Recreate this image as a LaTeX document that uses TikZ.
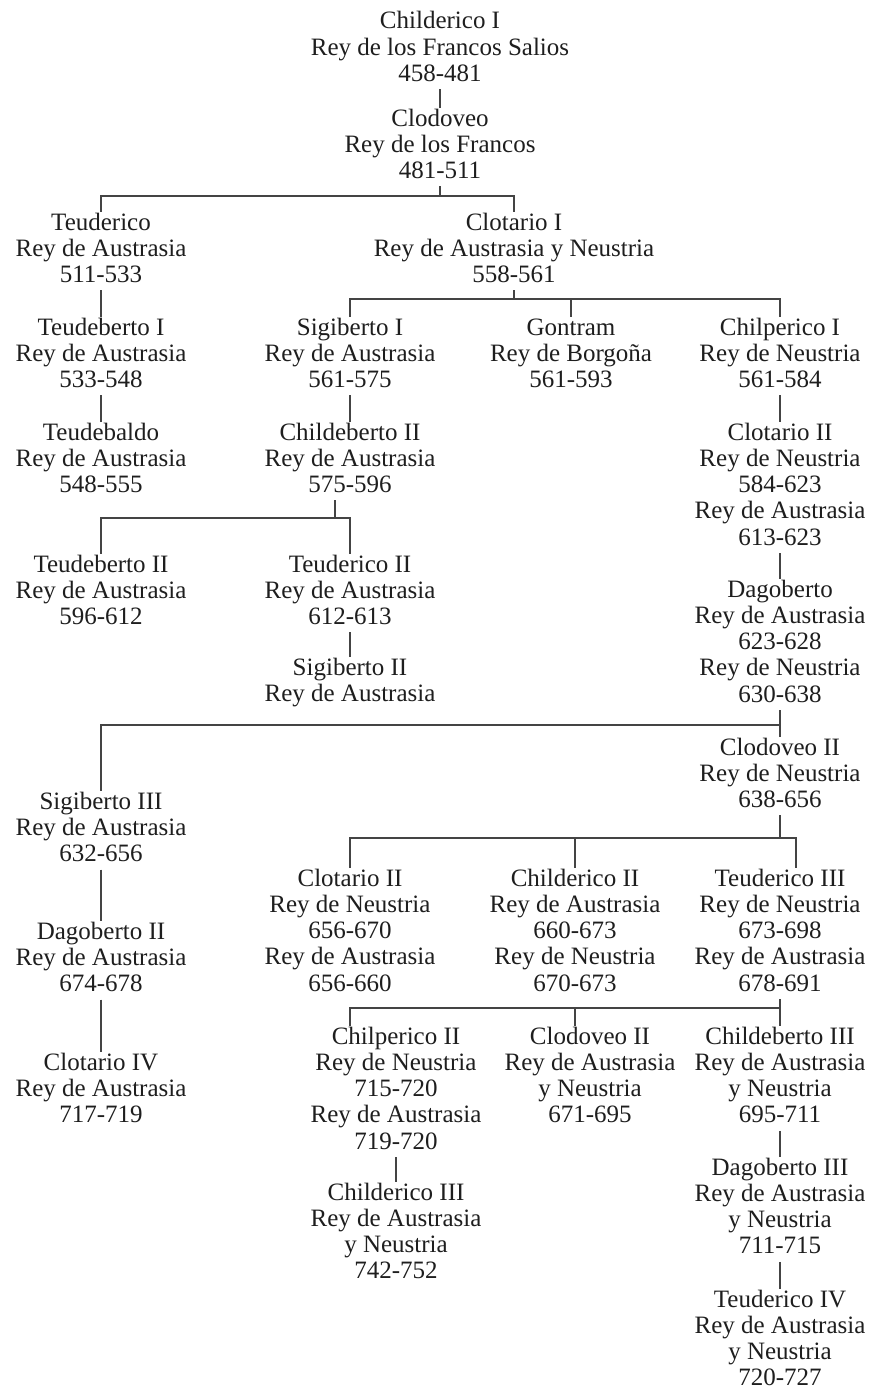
\documentclass[tikz,border=0pt]{standalone}
\usepackage{fontspec}
\setmainfont{Liberation Serif}
\definecolor{ink}{HTML}{1E1E1E}
\definecolor{rule}{HTML}{444444}
\newcommand\kingtext[1]{\begin{tabular}[t]{@{}c@{}}#1\end{tabular}}
\newcommand\kfont{\fontsize{25}{26.3}\selectfont}
\tikzset{
  king/.style={anchor=base, inner sep=0pt, outer sep=0pt, text=ink, font=\kfont},
  link/.style={draw=rule, line width=1.5pt}
}
\begin{document}
\begin{tikzpicture}[x=1pt,y=-1pt]
\useasboundingbox[fill=white] (0,0) rectangle (872,1389);
% nodes
\node[king] (ch1) at (440,29) {\kingtext{Childerico I\\Rey de los Francos Salios\\458-481}};
\node[king] (clo) at (440,126) {\kingtext{Clodoveo\\Rey de los Francos\\481-511}};
\node[king] (teu) at (101,230) {\kingtext{Teuderico\\Rey de Austrasia\\511-533}};
\node[king] (clt1) at (514,230) {\kingtext{Clotario I\\Rey de Austrasia y Neustria\\558-561}};
\node[king] (tb1) at (101,335) {\kingtext{Teudeberto I\\Rey de Austrasia\\533-548}};
\node[king] (sg1) at (350,335) {\kingtext{Sigiberto I\\Rey de Austrasia\\561-575}};
\node[king] (gon) at (571,335) {\kingtext{Gontram\\Rey de Borgoña\\561-593}};
\node[king] (chp1) at (780,335) {\kingtext{Chilperico I\\Rey de Neustria\\561-584}};
\node[king] (tbd) at (101,440) {\kingtext{Teudebaldo\\Rey de Austrasia\\548-555}};
\node[king] (cb2) at (350,440) {\kingtext{Childeberto II\\Rey de Austrasia\\575-596}};
\node[king] (clt2) at (780,440) {\kingtext{Clotario II\\Rey de Neustria\\584-623\\Rey de Austrasia\\613-623}};
\node[king] (tb2) at (101,572) {\kingtext{Teudeberto II\\Rey de Austrasia\\596-612}};
\node[king] (tr2) at (350,572) {\kingtext{Teuderico II\\Rey de Austrasia\\612-613}};
\node[king] (dag) at (780,597) {\kingtext{Dagoberto\\Rey de Austrasia\\623-628\\Rey de Neustria\\630-638}};
\node[king] (sg2) at (350,675) {\kingtext{Sigiberto II\\Rey de Austrasia}};
\node[king] (clv2) at (780,755) {\kingtext{Clodoveo II\\Rey de Neustria\\638-656}};
\node[king] (sg3) at (101,809) {\kingtext{Sigiberto III\\Rey de Austrasia\\632-656}};
\node[king] (dg2) at (101,939) {\kingtext{Dagoberto II\\Rey de Austrasia\\674-678}};
\node[king] (clt2b) at (350,886) {\kingtext{Clotario II\\Rey de Neustria\\656-670\\Rey de Austrasia\\656-660}};
\node[king] (chd2) at (575,886) {\kingtext{Childerico II\\Rey de Austrasia\\660-673\\Rey de Neustria\\670-673}};
\node[king] (tr3) at (780,886) {\kingtext{Teuderico III\\Rey de Neustria\\673-698\\Rey de Austrasia\\678-691}};
\node[king] (clt4) at (101,1070) {\kingtext{Clotario IV\\Rey de Austrasia\\717-719}};
\node[king] (chp2) at (396,1044) {\kingtext{Chilperico II\\Rey de Neustria\\715-720\\Rey de Austrasia\\719-720}};
\node[king] (clv2b) at (590,1044) {\kingtext{Clodoveo II\\Rey de Austrasia\\y Neustria\\671-695}};
\node[king] (cb3) at (780,1044) {\kingtext{Childeberto III\\Rey de Austrasia\\y Neustria\\695-711}};
\node[king] (chd3) at (396,1200) {\kingtext{Childerico III\\Rey de Austrasia\\y Neustria\\742-752}};
\node[king] (dg3) at (780,1175) {\kingtext{Dagoberto III\\Rey de Austrasia\\y Neustria\\711-715}};
\node[king] (tr4) at (780,1307) {\kingtext{Teuderico IV\\Rey de Austrasia\\y Neustria\\720-727}};
% bracket levels
\coordinate (k1) at (0,196);
\coordinate (k2) at (0,299);
\coordinate (k3) at (0,518);
\coordinate (k4) at (0,725);
\coordinate (k5) at (0,838);
\coordinate (k6) at (0,1008);
\coordinate (cb2d) at ([xshift=-15pt]cb2.south);
\coordinate (tr3t) at ([xshift=16pt]tr3.north);
\coordinate (chp2t) at ([xshift=-46pt]chp2.north);
\coordinate (clv2bt) at ([xshift=-15pt]clv2b.north);
% connectors
\draw[link] (ch1.south) -- (clo.north);
\draw[link] (clo.south) -- (clo.south |- k1);
\draw[link] (teu.north) |- (clt1.north |- k1) -- (clt1.north);
\draw[link] (clt1.south) -- (clt1.south |- k2);
\draw[link] (sg1.north) |- (chp1.north |- k2) -- (chp1.north);
\draw[link] (gon.north) -- (gon.north |- k2);
\draw[link] (teu.south) -- (tb1.north);
\draw[link] (tb1.south) -- (tbd.north);
\draw[link] (sg1.south) -- (cb2.north);
\draw[link] (chp1.south) -- (clt2.north);
\draw[link] (cb2d) -- (cb2d |- k3);
\draw[link] (tb2.north) |- (tr2.north |- k3) -- (tr2.north);
\draw[link] (tr2.south) -- (sg2.north);
\draw[link] (clt2.south) -- (dag.north);
\draw[link] (dag.south) -- (clv2.north);
\draw[link] (sg3.north) |- (dag.south |- k4);
\draw[link] (sg3.south) -- (dg2.north);
\draw[link] (dg2.south) -- (clt4.north);
\draw[link] (clv2.south) -- (clv2.south |- k5);
\draw[link] (clt2b.north) |- (tr3t |- k5) -- (tr3t);
\draw[link] (chd2.north) -- (chd2.north |- k5);
\draw[link] (tr3.south) -- (tr3.south |- k6);
\draw[link] (chp2t) |- (cb3.north |- k6) -- (cb3.north);
\draw[link] (clv2bt) -- (clv2bt |- k6);
\draw[link] (chp2.south) -- (chd3.north);
\draw[link] (cb3.south) -- (dg3.north);
\draw[link] (dg3.south) -- (tr4.north);
\end{tikzpicture}
\end{document}
